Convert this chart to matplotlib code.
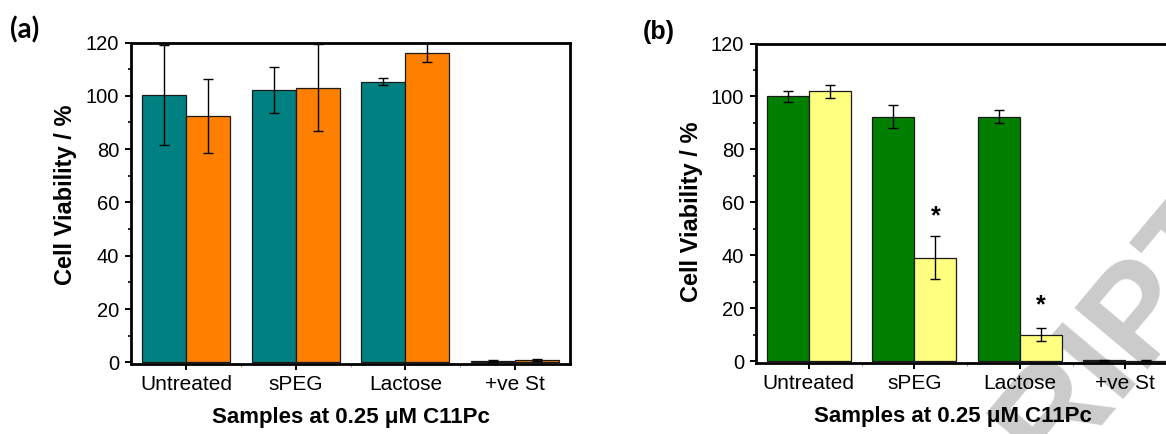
import matplotlib
matplotlib.use('Agg')
import matplotlib.pyplot as plt
import numpy as np
from matplotlib.ticker import MultipleLocator, FixedLocator

plt.rcParams['font.family'] = ['Liberation Sans', 'DejaVu Sans']

categories = ['Untreated', 'sPEG', 'Lactose', '+ve St']

# panel (a)
a_teal = [100.2, 102.3, 105.3, 0.6]
a_teal_err = [18.8, 8.6, 1.4, 0.3]
a_orange = [92.4, 103.1, 116.1, 0.9]
a_orange_err = [14.0, 16.3, 3.6, 0.3]

# panel (b)
b_green = [100.0, 92.4, 92.4, 0.4]
b_green_err = [2.1, 4.3, 2.5, 0.2]
b_yellow = [101.9, 39.1, 10.1, 0.3]
b_yellow_err = [2.5, 8.1, 2.5, 0.2]
b_star_idx = [1, 2]
b_star_y = [52.0, 18.5]

W, H = 1166, 434
fig = plt.figure(figsize=(W / 100, H / 100), dpi=100)


def px_rect(x0, x1, y_top, y_bot):
    return [x0 / W, 1 - y_bot / H, (x1 - x0) / W, (y_bot - y_top) / H]


def draw_panel(ax, left, right, left_err, right_err, c_left, c_right):
    x = np.arange(1, len(categories) + 1)
    w = 0.4
    ax.bar(x - w / 2, left, w, color=c_left, edgecolor='#1a1a1a', linewidth=0.9, zorder=2)
    ax.bar(x + w / 2, right, w, color=c_right, edgecolor='#1a1a1a', linewidth=0.9, zorder=2)
    ax.errorbar(x - w / 2, left, yerr=left_err, fmt='none', ecolor='black',
                elinewidth=1.0, capsize=3.5, capthick=1.0, zorder=3)
    ax.errorbar(x + w / 2, right, yerr=right_err, fmt='none', ecolor='black',
                elinewidth=1.0, capsize=3.5, capthick=1.0, zorder=3)

    ax.set_xlim(0.5, 4.5)
    ax.set_ylim(-0.6, 120)
    ax.set_xticks(x)
    ax.set_xticklabels(categories, fontsize=15)
    ax.xaxis.set_minor_locator(FixedLocator([1.5, 2.5, 3.5]))
    ax.yaxis.set_major_locator(MultipleLocator(20))
    ax.yaxis.set_minor_locator(MultipleLocator(10))
    ax.tick_params(axis='y', which='major', direction='out', length=4.5, width=1.4,
                   labelsize=14.5, pad=4)
    ax.tick_params(axis='y', which='minor', direction='out', length=2.5, width=1.2)
    ax.tick_params(axis='x', which='major', direction='out', length=4.5, width=1.4, pad=3.5)
    ax.tick_params(axis='x', which='minor', direction='out', length=2, width=0.6, color='#888888')
    for s in ax.spines.values():
        s.set_linewidth(2.0)
    ax.set_xlabel('Samples at 0.25 \u03bcM C11Pc', fontsize=16, fontweight='bold')
    ax.set_ylabel('Cell Viability / %', fontsize=17, fontweight='bold')


ax_a = fig.add_axes(px_rect(131, 570, 42.5, 364))
draw_panel(ax_a, a_teal, a_orange, a_teal_err, a_orange_err, '#008080', '#FF8000')
ax_a.xaxis.set_label_coords(0.5, -0.135)
ax_a.yaxis.set_label_coords(-0.123, 0.526)

ax_b = fig.add_axes(px_rect(756, 1178, 43.5, 363))
draw_panel(ax_b, b_green, b_yellow, b_green_err, b_yellow_err, '#007F00', '#FFFF80')
ax_b.xaxis.set_label_coords(0.467, -0.135)
ax_b.yaxis.set_label_coords(-0.126, 0.473)

for i, y in zip(b_star_idx, b_star_y):
    ax_b.text(i + 1 + 0.2, y, '*', ha='center', va='baseline', fontsize=18,
              fontweight='bold', zorder=4)

fig.text(10 / W, 1 - 38 / H, '(a)', fontsize=20, fontweight='bold',
         family=['Lato', 'DejaVu Sans'], ha='left', va='baseline')
fig.text(643 / W, 1 - 39 / H, '(b)', fontsize=18, fontweight='bold',
         ha='left', va='baseline')

# grey manuscript watermark, behind the bars of panel (b)
ax_b.text(1050 / W, 1 - 475 / H, 'RIPT', transform=fig.transFigure, fontsize=100,
          fontweight='bold', color='#cbcbcb', rotation=50, rotation_mode='anchor',
          ha='left', va='baseline', zorder=1, clip_on=False)

fig.savefig('out.png', dpi=100)
